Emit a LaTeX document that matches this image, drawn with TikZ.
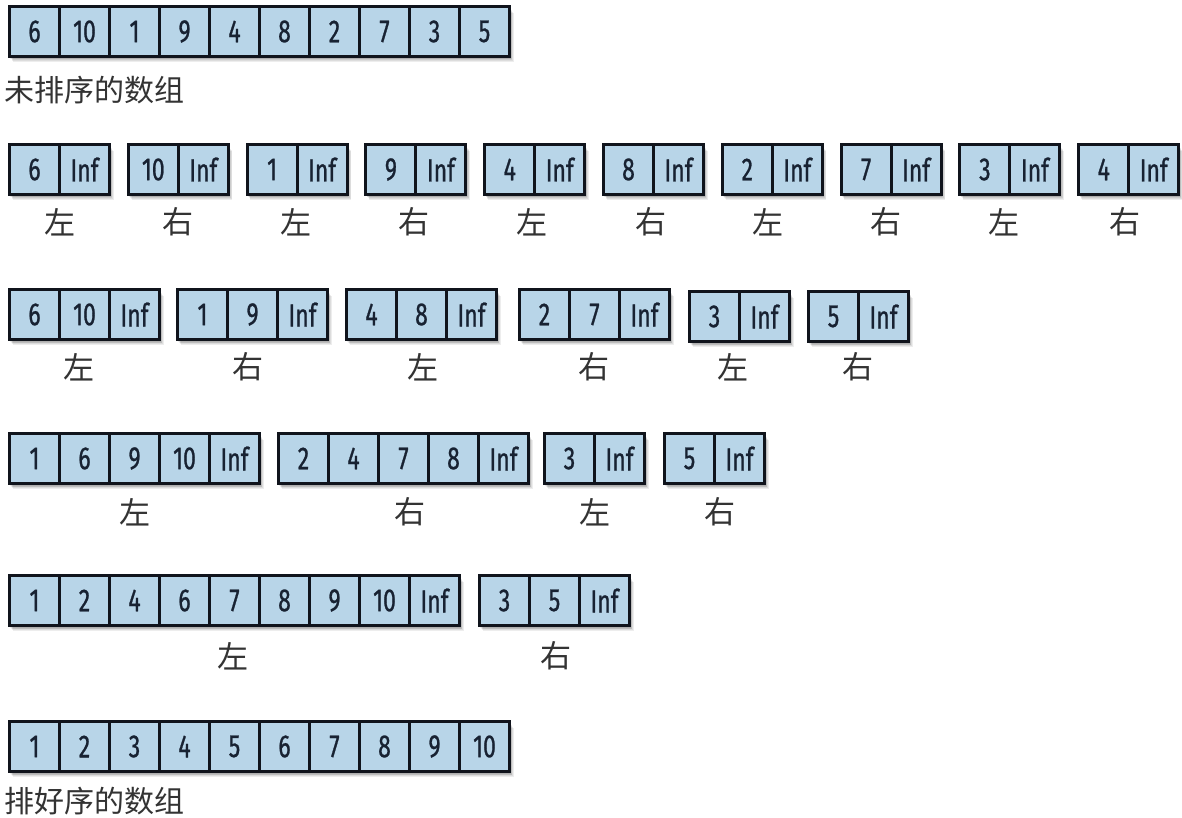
\documentclass[tikz,border=0pt]{standalone}
\usepackage{fontspec}
\newfontfamily\cjk{Noto Sans CJK SC}
\newfontfamily\numfont[FakeStretch=0.72,FakeBold=0.8]{Fira Sans}
\definecolor{cellblue}{RGB}{184,213,232}
\definecolor{edgecol}{RGB}{16,20,28}
\definecolor{numcol}{RGB}{24,34,50}
\tikzset{
  cell/.style={draw=edgecol, line width=3pt, fill=cellblue, minimum width=50pt,
    minimum height=50pt, inner sep=0pt, anchor=north west,
    font=\numfont\fontsize{32}{32}\selectfont, text=numcol},
  lbl/.style={font=\cjk\fontsize{31}{31}\selectfont, text=black!80},
  ttl/.style={font=\cjk\fontsize{30}{30}\selectfont, text=black!80, anchor=west, inner sep=0pt},
}
% name, x, y, number of cells, list
\newcommand\grp[5]{%
  \foreach \k in {1,...,8}
    \fill[black, opacity=0.07] (#2+\k*0.6, #3+\k) rectangle (#2+#4*50+\k*0.7, #3+50+\k*0.9);
  \foreach \v [count=\i from 0] in {#5}
    \node[cell] (#1-\i) at (#2+\i*50, #3) {\v};
}
\begin{document}
\begin{tikzpicture}[x=1pt, y=-1pt]
\useasboundingbox[fill=white] (0,0) rectangle (1182,818);

% row 1
\grp{ra}{8}{5}{10}{6,10,1,9,4,8,2,7,3,5}
\node[ttl] (unsorted) at (4,90) {未排序的数组};

% row 2
\grp{rb0}{8}{143}{2}{6,Inf}
\grp{rb1}{126.8}{143}{2}{10,Inf}
\grp{rb2}{245.6}{143}{2}{1,Inf}
\grp{rb3}{364.4}{143}{2}{9,Inf}
\grp{rb4}{483.2}{143}{2}{4,Inf}
\grp{rb5}{602}{143}{2}{8,Inf}
\grp{rb6}{720.8}{143}{2}{2,Inf}
\grp{rb7}{839.6}{143}{2}{7,Inf}
\grp{rb8}{958.4}{143}{2}{3,Inf}
\grp{rb9}{1077.2}{143}{2}{4,Inf}
\node[lbl] (lb0) at (60,222) {左};
\node[lbl] (lb1) at (178,222) {右};
\node[lbl] (lb2) at (296,222) {左};
\node[lbl] (lb3) at (414,222) {右};
\node[lbl] (lb4) at (532,222) {左};
\node[lbl] (lb5) at (651,222) {右};
\node[lbl] (lb6) at (768,222) {左};
\node[lbl] (lb7) at (886,222) {右};
\node[lbl] (lb8) at (1004,222) {左};
\node[lbl] (lb9) at (1125,222) {右};

% row 3
\grp{rc0}{8}{288}{3}{6,10,Inf}
\grp{rc1}{176}{288}{3}{1,9,Inf}
\grp{rc2}{345}{288}{3}{4,8,Inf}
\grp{rc3}{518}{288}{3}{2,7,Inf}
\grp{rc4}{688}{290}{2}{3,Inf}
\grp{rc5}{807}{290}{2}{5,Inf}
\node[lbl] (lc0) at (79,367) {左};
\node[lbl] (lc1) at (248,367) {右};
\node[lbl] (lc2) at (423,367) {左};
\node[lbl] (lc3) at (594,367) {右};
\node[lbl] (lc4) at (733,367) {左};
\node[lbl] (lc5) at (858,367) {右};

% row 4
\grp{rd0}{8}{432}{5}{1,6,9,10,Inf}
\grp{rd1}{277}{432}{5}{2,4,7,8,Inf}
\grp{rd2}{543}{432}{2}{3,Inf}
\grp{rd3}{663}{432}{2}{5,Inf}
\node[lbl] (ld0) at (135,512) {左};
\node[lbl] (ld1) at (410,512) {右};
\node[lbl] (ld2) at (595,512) {左};
\node[lbl] (ld3) at (720,512) {右};

% row 5
\grp{re0}{8}{574}{9}{1,2,4,6,7,8,9,10,Inf}
\grp{re1}{478}{574}{3}{3,5,Inf}
\node[lbl] (le0) at (233,656) {左};
\node[lbl] (le1) at (556,656) {右};

% row 6
\grp{rf}{8}{720}{10}{1,2,3,4,5,6,7,8,9,10}
\node[ttl] (sorted) at (4,801) {排好序的数组};
\end{tikzpicture}
\end{document}
